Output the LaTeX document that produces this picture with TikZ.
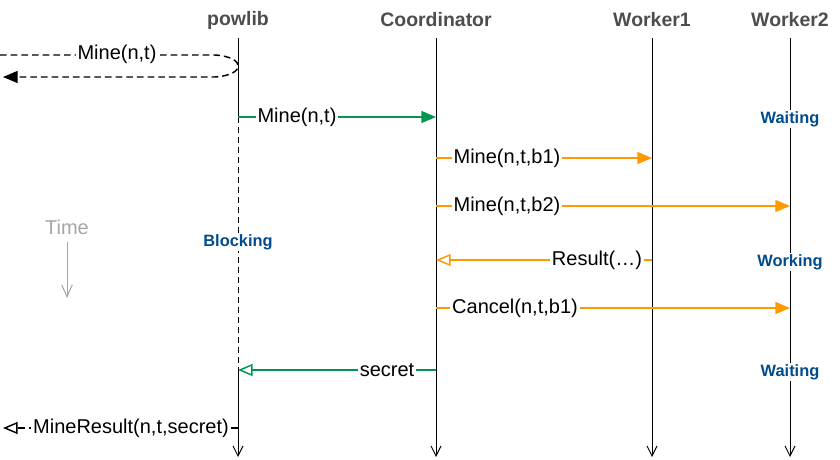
\documentclass[tikz,border=0pt]{standalone}
\usepackage{fontspec}
\setmainfont{Liberation Sans}
\usetikzlibrary{arrows.meta}

\definecolor{msggreen}{RGB}{0,150,80}
\definecolor{msgorange}{RGB}{255,153,0}
\definecolor{stateblue}{RGB}{0,76,140}
\definecolor{headgray}{RGB}{77,77,77}
\definecolor{timegray}{RGB}{165,165,165}

\tikzset{every picture/.style={line width=0.75pt}}
\tikzset{
	header/.style={font=\fontsize{14.6}{17}\selectfont\bfseries, text=headgray, inner sep=0.75pt},
	lifeline/.style={line width=0.75pt, -{Straight Barb[length=7.5pt,width=7.5pt]}},
	msglbl/.style={font=\fontsize{15}{17}\selectfont, fill=white, inner sep=1.5pt},
	statelbl/.style={font=\fontsize{12.3}{14}\selectfont\bfseries, text=stateblue, fill=white, inner sep=1pt},
	callmsg/.style={line width=1.1pt, -{Triangle[length=11pt,width=9pt]}},
	replymsg/.style={line width=1.1pt, -{Triangle[open,length=11pt,width=9pt]}},
	loopdash/.style={line width=1.1pt, dash pattern=on 5pt off 3pt},
}

\begin{document}
\begin{tikzpicture}[x=0.75pt,y=0.75pt,yscale=-1,xscale=1]
	\useasboundingbox (0,0) rectangle (840,460);

	% Headers
	\node [header] (powlib) at (238,20) {powlib};
	\node [header] (coord) at (436,20) {Coordinator};
	\node [header] (worker1) at (652,20) {Worker1};
	\node [header] (worker2) at (790,20) {Worker2};

	% Lifeline ends
	\coordinate (powlib-top) at (238,38);
	\coordinate (powlib-bot) at (238,457);
	\coordinate (coord-top) at (436,38);
	\coordinate (coord-bot) at (436,457);
	\coordinate (worker1-top) at (652,38);
	\coordinate (worker1-bot) at (652,457);
	\coordinate (worker2-top) at (790,38);
	\coordinate (worker2-bot) at (790,457);

	% Message ends
	\coordinate (caller-in) at (0,55);
	\coordinate (loop-a) at (215,55);
	\coordinate (loop-b) at (215,77);
	\coordinate (caller-out) at (3,77);
	\coordinate (powlib-m1) at (238,117);
	\coordinate (coord-m1) at (436,117);
	\coordinate (coord-b1) at (436,158);
	\coordinate (worker1-b1) at (652,158);
	\coordinate (coord-b2) at (436,206);
	\coordinate (worker2-b2) at (790,206);
	\coordinate (worker1-res) at (652,260);
	\coordinate (coord-res) at (436,260);
	\coordinate (coord-cancel) at (436,308);
	\coordinate (worker2-cancel) at (790,308);
	\coordinate (coord-secret) at (436,370);
	\coordinate (powlib-secret) at (238,370);
	\coordinate (powlib-ret) at (238,428);
	\coordinate (caller-ret) at (3,428);

	% Lifelines
	\draw (powlib-top) -- (powlib-m1);
	\draw [dash pattern=on 4.5pt off 3pt] (powlib-m1) -- (powlib-secret);
	\draw [lifeline] (powlib-secret) -- (powlib-bot);
	\draw [lifeline] (coord-top) -- (coord-bot);
	\draw [lifeline] (worker1-top) -- (worker1-bot);
	\draw [lifeline] (worker2-top) -- (worker2-bot);

	% Time
	\node [font=\fontsize{15}{17}\selectfont, text=timegray] (time) at (67,227) {Time};
	\coordinate (time-end) at (67,298);
	\draw [timegray, -{Straight Barb[length=9pt,width=8pt]}] (time) ++(0,15) -- (time-end);

	% States
	\node [statelbl] (blocking) at (238,242) {Blocking};
	\node [statelbl] (waiting1) at (790,119) {Waiting};
	\node [statelbl] (working) at (790,262) {Working};
	\node [statelbl] (waiting2) at (790,372) {Waiting};

	% Self call
	\draw [loopdash, -{Triangle[length=11pt,width=9pt]}] (caller-in) -- (loop-a) .. controls (246,57) and (246,75) .. (loop-b) -- (caller-out);
	\node [msglbl] (lbl-mine) at (117,54) {Mine(n,t)};

	% Calls
	\draw [callmsg, msggreen] (powlib-m1) -- (coord-m1);
	\node [msglbl] (lbl-m1) at (297,117) {Mine(n,t)};
	\draw [callmsg, msgorange] (coord-b1) -- (worker1-b1);
	\node [msglbl] (lbl-b1) at (507,158) {Mine(n,t,b1)};
	\draw [callmsg, msgorange] (coord-b2) -- (worker2-b2);
	\node [msglbl] (lbl-b2) at (507,206) {Mine(n,t,b2)};
	\draw [replymsg, msgorange] (worker1-res) -- (coord-res);
	\node [msglbl] (lbl-res) at (597,260) {Result(…)};
	\draw [callmsg, msgorange] (coord-cancel) -- (worker2-cancel);
	\node [msglbl] (lbl-cancel) at (515,308) {Cancel(n,t,b1)};
	\draw [replymsg, msggreen] (coord-secret) -- (powlib-secret);
	\node [msglbl] (lbl-secret) at (387,370) {secret};

	% Return
	\draw [loopdash, -{Triangle[open,length=11pt,width=9pt]}] (powlib-ret) -- (caller-ret);
	\node [msglbl] (lbl-ret) at (131,428) {MineResult(n,t,secret)};

\end{tikzpicture}
\end{document}
